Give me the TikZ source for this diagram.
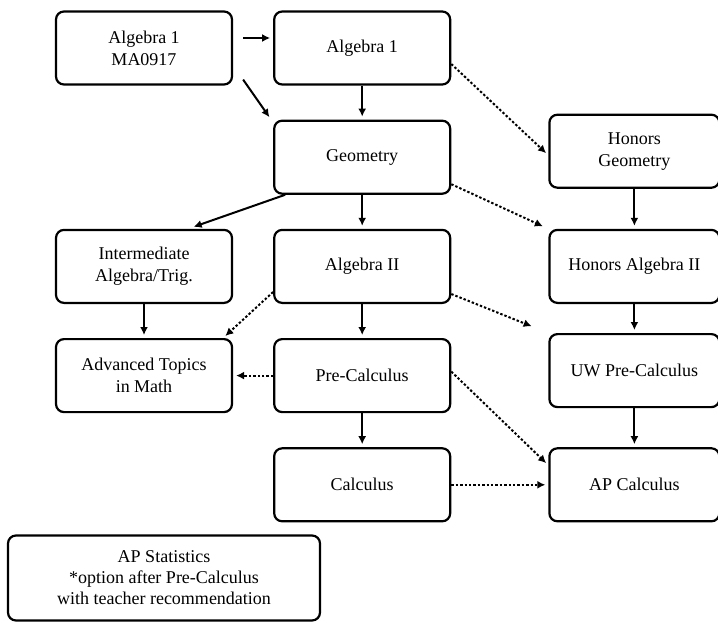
\documentclass[tikz,border=0pt]{standalone}
\usepackage{fontspec}
\setmainfont{Liberation Serif}
\usepackage{tikz}
\usetikzlibrary{arrows.meta, positioning, shapes.misc}

\begin{document}
\begin{tikzpicture}[
    x=1pt, y=1pt,
    node distance=34pt and 40pt,
    every node/.style={font=\fontsize{18}{22}\selectfont},
    course/.style={
        rectangle,
        rounded corners=8pt,
        draw=black,
        line width=2.2pt,
        minimum width=176pt,
        minimum height=73pt,
        align=center
    },
    honors/.style={course, minimum width=170pt},
    note/.style={course, minimum width=312pt, minimum height=85pt,
        font=\fontsize{18}{21}\selectfont},
    arrow/.style={line width=2pt, -{Latex[length=8pt,width=8pt]}, shorten >=3pt},
    option/.style={arrow, dash pattern=on 2.4pt off 2pt}
]
\useasboundingbox (0,0) rectangle (718,-623);

\node[course] (mazero) at (144,-48) {Algebra 1\\MA0917};
\node[course, right=of mazero] (algone) {Algebra 1};
\node[course, below=of algone] (geom) {Geometry};
\node[course, below=of geom] (algtwo) {Algebra II};
\node[course, below=of algtwo] (precalc) {Pre-Calculus};
\node[course, below=of precalc] (calc) {Calculus};
\node[course] (inter) at (mazero |- algtwo) {Intermediate\\Algebra/Trig.};
\node[course] (advtop) at (mazero |- precalc) {Advanced Topics\\in Math};
\node[honors, right=97pt of geom, yshift=6pt] (honge) {Honors\\Geometry};
\node[honors] (hontwo) at (honge |- algtwo) {Honors Algebra II};
\node[honors, yshift=5pt] (uwpre) at (honge |- precalc) {UW Pre-Calculus};
\node[honors] (apcalc) at (honge |- calc) {AP Calculus};
\node[note] (apstats) at (164,-578) {AP Statistics\\*option after Pre-Calculus\\with teacher recommendation};

% required sequence
\draw[arrow, shorten <=10pt] ([yshift=10pt]mazero.east) -- ([yshift=10pt]algone.west);
\draw[arrow] ([xshift=10pt,yshift=6pt]mazero.south east) -- ([xshift=-2pt]geom.north west);
\draw[arrow] (algone) -- (geom);
\draw[arrow] (geom) -- (algtwo);
\draw[arrow] (algtwo) -- (precalc);
\draw[arrow] (precalc) -- (calc);
\draw[arrow, shorten >=6pt] ([xshift=12pt]geom.south west) -- ([xshift=44pt]inter.north);
\draw[arrow] (inter) -- (advtop);
\draw[arrow] (honge) -- (hontwo);
\draw[arrow] (hontwo) -- (uwpre);
\draw[arrow] (uwpre) -- (apcalc);

% optional paths
\draw[option] ([yshift=-16pt]algone.east) -- ([yshift=-4pt]honge.west);
\draw[option, shorten >=6pt] ([yshift=-27pt]geom.east) -- (hontwo.north west);
\draw[option] ([yshift=12pt]algtwo.south west) -- ([xshift=-10pt]advtop.north east);
\draw[option, shorten >=18pt] ([yshift=10pt]algtwo.south east) -- (uwpre.north west);
\draw[option] (precalc.west) -- (precalc.west -| advtop.east);
\draw[option] ([yshift=4pt]precalc.east) -- ([yshift=-18pt]apcalc.north west);
\draw[option] (calc.east) -- (calc.east -| apcalc.west);

\end{tikzpicture}
\end{document}
